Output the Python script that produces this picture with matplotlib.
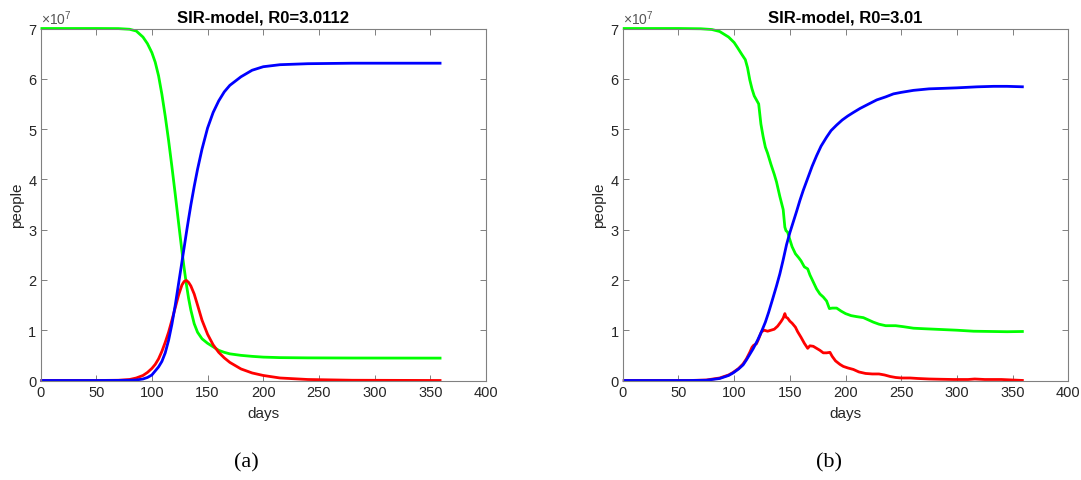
import numpy as np
import matplotlib
matplotlib.use("Agg")
import matplotlib.pyplot as plt
from matplotlib.ticker import FuncFormatter

plt.rcParams['font.family'] = ['Liberation Sans', 'DejaVu Sans']
plt.rcParams['mathtext.fontset'] = 'custom'
plt.rcParams['mathtext.rm'] = 'Liberation Sans'

SCALE = 1e7

# ---- panel (a): deterministic model, values in units of 1e7 people ----
days_a = [0, 50, 70, 80, 86, 92, 96, 100, 103, 106, 109, 112, 115, 118, 121,
          124, 127, 129, 131, 133, 135, 138, 141, 145, 150, 155, 160, 165,
          170, 180, 190, 200, 215, 240, 280, 360]
S_a = [7.0, 7.0, 6.998, 6.985, 6.95, 6.83, 6.70, 6.52, 6.33, 6.06, 5.69, 5.255,
       4.775, 4.25, 3.70, 3.13, 2.57, 2.23, 1.91, 1.63, 1.40, 1.13, 0.96, 0.83,
       0.74, 0.67, 0.60, 0.56, 0.53, 0.50, 0.48, 0.465, 0.455, 0.45, 0.447,
       0.445]
I_a = [0.0, 0.0, 0.005, 0.02, 0.05, 0.10, 0.16, 0.24, 0.32, 0.43, 0.58, 0.76,
       0.96, 1.20, 1.45, 1.70, 1.90, 1.97, 1.99, 1.95, 1.88, 1.72, 1.50, 1.20,
       0.92, 0.71, 0.56, 0.45, 0.36, 0.23, 0.15, 0.10, 0.05, 0.02, 0.005, 0.0]
R_a = [0.0, 0.0, 0.002, 0.005, 0.01, 0.03, 0.06, 0.11, 0.19, 0.27, 0.38, 0.55,
       0.80, 1.12, 1.50, 1.93, 2.36, 2.65, 2.94, 3.22, 3.49, 3.86, 4.20, 4.60,
       5.02, 5.33, 5.56, 5.74, 5.87, 6.04, 6.17, 6.24, 6.28, 6.30, 6.31, 6.31]

# ---- panel (b): stochastic run ----
days_S_b = [0, 50, 70, 80, 87, 95, 100, 103, 107, 110, 112, 114, 116, 118, 120,
            122, 124, 126, 128, 130, 133, 136, 138, 141, 144, 145.5, 146.5, 148,
            150, 152, 155, 158, 160, 163, 166, 168, 171, 174, 177, 180, 183,
            185.5, 188, 192, 196, 200, 205, 210, 216, 220, 225, 230, 236, 245,
            252, 261, 270, 280, 290, 300, 315, 330, 345, 360]
S_b = [7.0, 7.0, 6.995, 6.98, 6.94, 6.83, 6.72, 6.62, 6.48, 6.38, 6.22, 5.98,
       5.80, 5.66, 5.58, 5.50, 5.10, 4.85, 4.64, 4.52, 4.30, 4.10, 3.95, 3.66,
       3.40, 3.05, 2.98, 2.95, 2.80, 2.66, 2.52, 2.44, 2.38, 2.26, 2.22, 2.10,
       1.96, 1.82, 1.72, 1.66, 1.58, 1.43, 1.44, 1.44, 1.38, 1.33, 1.29, 1.27,
       1.25, 1.21, 1.16, 1.12, 1.09, 1.09, 1.07, 1.04, 1.03, 1.02, 1.01, 1.0,
       0.98, 0.975, 0.97, 0.975]

days_I_b = [0, 60, 75, 87, 95, 99, 104, 108, 111, 114, 116, 117.5, 120, 122,
            124.5, 127, 130, 133, 136, 139, 142, 144, 145.5, 146.5, 148, 150,
            152, 155, 157, 160, 163, 166, 168, 171, 174, 177, 180, 183, 186,
            188, 191, 195, 198, 202, 207, 212, 218, 224, 230, 235, 240, 245,
            250, 258, 265, 275, 285, 297, 310, 316, 325, 340, 350, 360]
I_b = [0.0, 0.0, 0.01, 0.05, 0.11, 0.16, 0.24, 0.33, 0.43, 0.56, 0.66, 0.70,
       0.73, 0.83, 0.97, 1.0, 0.98, 1.0, 1.02, 1.08, 1.17, 1.24, 1.33, 1.26,
       1.24, 1.18, 1.14, 1.06, 0.97, 0.86, 0.74, 0.64, 0.69, 0.68, 0.64, 0.60,
       0.55, 0.55, 0.56, 0.48, 0.39, 0.32, 0.28, 0.25, 0.22, 0.17, 0.14, 0.13,
       0.13, 0.11, 0.08, 0.06, 0.05, 0.05, 0.04, 0.03, 0.025, 0.02, 0.02, 0.03,
       0.02, 0.02, 0.01, 0.0]

days_R_b = [0, 60, 75, 87, 95, 99, 104, 108, 111, 114, 117, 121, 124.5, 128,
            131, 134, 138, 141, 144, 147, 150, 153, 156, 159, 162, 166, 170,
            174, 178, 183, 187, 192, 197, 202, 207, 213, 220, 228, 236, 243,
            250, 261, 275, 288, 300, 318, 333, 345, 360]
R_b = [0.0, 0.0, 0.005, 0.04, 0.10, 0.15, 0.23, 0.31, 0.41, 0.52, 0.63, 0.80,
       0.97, 1.16, 1.36, 1.58, 1.88, 2.12, 2.40, 2.70, 2.94, 3.15, 3.36, 3.58,
       3.78, 4.02, 4.26, 4.47, 4.66, 4.84, 4.97, 5.08, 5.18, 5.26, 5.33, 5.41,
       5.49, 5.58, 5.64, 5.70, 5.73, 5.77, 5.80, 5.81, 5.82, 5.84, 5.85, 5.85,
       5.84]

titles = ['SIR-model, R0=3.0112', 'SIR-model, R0=3.01']
captions = ['(a)', '(b)']

fig = plt.figure(figsize=(10.81, 4.81), dpi=100)
ax_a = fig.add_axes([40.5 / 1081, 99.5 / 481, 445.5 / 1081, 352 / 481])
ax_b = fig.add_axes([622.8 / 1081, 99.5 / 481, 445.5 / 1081, 352 / 481])

series = [
    [(days_a, S_a), (days_a, I_a), (days_a, R_a)],
    [(days_S_b, S_b), (days_I_b, I_b), (days_R_b, R_b)],
]
colors = ['#00ff00', '#ff0000', '#0000ff']
axis_grey = '#262626'

for ax, data, title, cap in zip([ax_a, ax_b], series, titles, captions):
    for (d, v), c in zip(data, colors):
        ax.plot(d, np.array(v) * SCALE, color=c, lw=2, clip_on=False,
                solid_capstyle='butt', solid_joinstyle='round')
    ax.set_xlim(0, 400)
    ax.set_ylim(0, 7 * SCALE)
    ax.set_xticks(np.arange(0, 401, 50))
    ax.set_yticks(np.arange(0, 8) * SCALE)
    ax.yaxis.set_major_formatter(FuncFormatter(lambda v, p: '%d' % round(v / SCALE)))
    ax.tick_params(direction='in', length=4.5, width=0.7, color='#808080',
                   top=True, right=True, labelsize=10.5, labelcolor=axis_grey,
                   pad=3)
    for sp in ax.spines.values():
        sp.set_color('#808080')
        sp.set_linewidth(0.8)
    ax.set_title(title, fontsize=12, fontweight='bold', color='black', pad=5)
    ax.set_xlabel('days', fontsize=11, color=axis_grey, labelpad=5)
    ax.set_ylabel('people', fontsize=11, color=axis_grey, labelpad=3)
    ax.text(0.0, 1.004, r'$\times\mathregular{10^{7}}$', transform=ax.transAxes,
            ha='left', va='bottom', fontsize=10, color='#555555')
    ax.text(0.462, -0.232, cap, transform=ax.transAxes, ha='center',
            va='center', fontsize=16, family=['Liberation Serif', 'DejaVu Serif'])

fig.savefig('out.png', dpi=100)
